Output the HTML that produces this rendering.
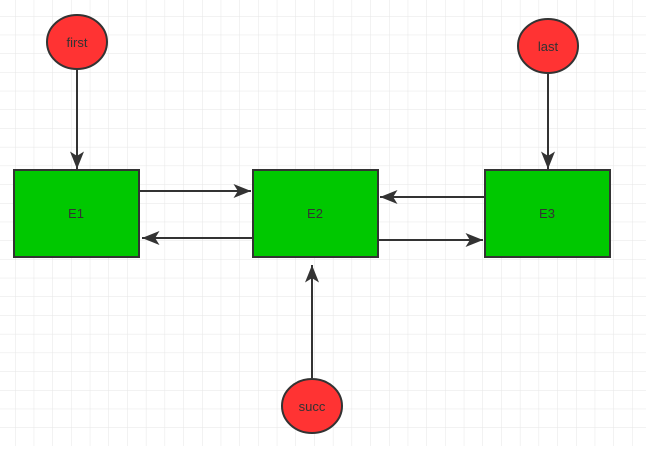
<!DOCTYPE html><html><head><style>body{margin:0;background:#fff}</style></head><body>
<svg width="646" height="446" xmlns="http://www.w3.org/2000/svg" font-family="Liberation Sans, sans-serif">
<defs><pattern id="g" x="15" y="16" width="18.7" height="18.7" patternUnits="userSpaceOnUse"><path d="M0 0H18.7M0 0V18.7" stroke="#e6e6e6" stroke-width="1" fill="none"/></pattern>
<marker id="a" markerWidth="10" markerHeight="8" refX="9" refY="4" orient="auto" markerUnits="userSpaceOnUse"><path d="M0 0L10 4L0 8L2.5 4Z" fill="#333"/></marker>
<marker id="b" viewBox="0 0 10 8" markerWidth="18" markerHeight="14" refX="10" refY="4" orient="auto" markerUnits="userSpaceOnUse"><path d="M0 0L10 4L0 8L2.5 4Z" fill="#333"/></marker></defs>
<rect width="646" height="446" fill="url(#g)"/>
<g stroke="#333" stroke-width="2" fill="none">
<line x1="77" y1="70" x2="77" y2="169" marker-end="url(#b)"/>
<line x1="548" y1="74" x2="548" y2="169" marker-end="url(#b)"/>
<line x1="312" y1="378" x2="312" y2="265" marker-end="url(#b)"/>
<line x1="140" y1="191" x2="251" y2="191" marker-end="url(#b)"/>
<line x1="252" y1="238" x2="142" y2="238" marker-end="url(#b)"/>
<line x1="484" y1="197" x2="380" y2="197" marker-end="url(#b)"/>
<line x1="379" y1="240" x2="483" y2="240" marker-end="url(#b)"/>
</g>
<g fill="#00c800" stroke="#333" stroke-width="2">
<rect x="14" y="170" width="125" height="87"/><rect x="253" y="170" width="125" height="87"/><rect x="485" y="170" width="125" height="87"/></g>
<g fill="#ff3333" stroke="#333" stroke-width="2">
<ellipse cx="77" cy="42" rx="30" ry="27"/><ellipse cx="548" cy="46" rx="30" ry="27"/><ellipse cx="312" cy="406" rx="30" ry="27"/></g>
<g font-size="13" fill="#333" text-anchor="middle">
<text x="77" y="47">first</text><text x="548" y="51">last</text><text x="312" y="411">succ</text>
<text x="76" y="218">E1</text><text x="315" y="218">E2</text><text x="547" y="218">E3</text></g>
</svg></body></html>
